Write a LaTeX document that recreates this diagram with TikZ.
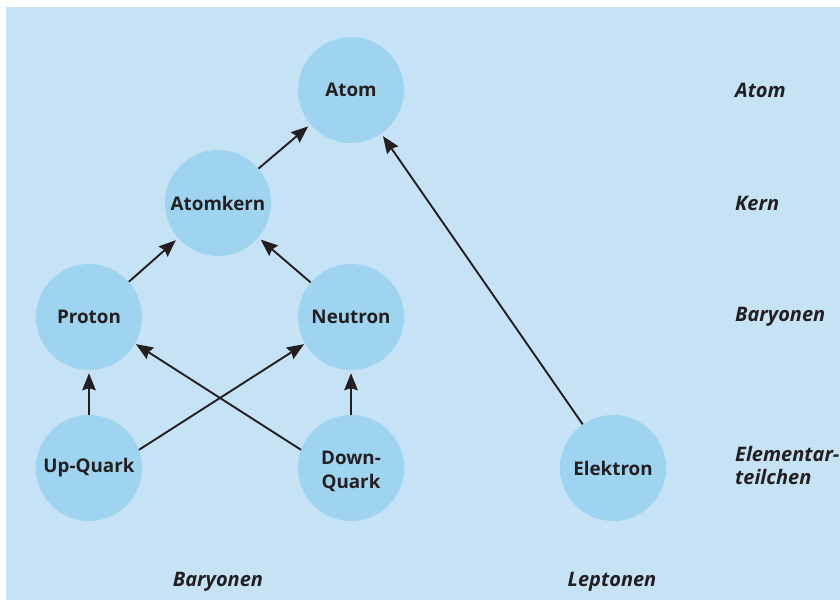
\documentclass[tikz,border=0pt]{standalone}
\usepackage{fontspec}
\setmainfont{Open Sans}
\usetikzlibrary{arrows.meta}
\definecolor{bgblue}{HTML}{C6E3F5}
\definecolor{circblue}{HTML}{9FD4F1}
\definecolor{ink}{HTML}{231F20}
\begin{document}
\begin{tikzpicture}[x=1pt,y=-1pt,
  particle/.style={circle,fill=circblue,minimum size=106pt,inner sep=0pt,
    font=\fontsize{18.8}{24}\selectfont\bfseries,text=ink,align=center},
  levellabel/.style={anchor=west,font=\fontsize{20}{23}\selectfont\bfseries\itshape,
    text=ink,align=left,inner sep=0pt},
  grouplabel/.style={font=\fontsize{20}{23}\selectfont\bfseries\itshape,text=ink,inner sep=0pt},
  arr/.style={draw=ink,line width=1.9pt,-{Stealth[length=17pt,width=13.5pt,inset=2pt]},shorten >=3pt}]
\useasboundingbox (0,0) rectangle (840,600);
\fill[bgblue] (6,7) rectangle (840,600);
\node[particle] (atom) at (351,90) {Atom};
\node[particle] (kern) at (218,203) {Atomkern};
\node[particle] (proton) at (89,317) {Proton};
\node[particle] (neutron) at (351,317) {Neutron};
\node[particle] (up) at (89,468) {Up-Quark};
\node[particle] (down) at (351,468) {\raisebox{-4pt}[\height][\depth]{\begin{tabular}{@{}c@{}}Down-\\Quark\end{tabular}}};
\node[particle] (elektron) at (613,468) {Elektron};
\draw[arr] (kern) -- (atom);
\draw[arr] (proton) -- (kern);
\draw[arr] (neutron) -- (kern);
\draw[arr] (up) -- (proton);
\draw[arr] (down) -- (neutron);
\draw[arr,shorten >=1pt] (up.20) -- (neutron.210);
\draw[arr,shorten >=1pt] (down.160) -- (proton.330);
\draw[arr] (elektron) -- (atom);
\node[levellabel] (latom) at (735,90) {Atom};
\node[levellabel] (lkern) at (735,203) {Kern};
\node[levellabel] (lbary) at (735,317) {Baryonen};
\node[levellabel] (lelem) at (735,465) {Elementar-\\teilchen};
\node[grouplabel] (gbary) at (218,582) {Baryonen};
\node[grouplabel] (glept) at (612,582) {Leptonen};
\end{tikzpicture}
\end{document}
